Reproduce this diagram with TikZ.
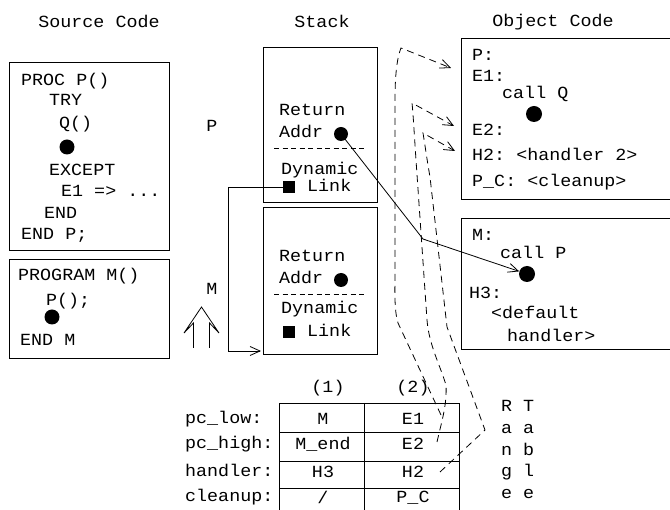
\documentclass[tikz,border=0pt]{standalone}
\usepackage{fontspec}
\setmonofont[FakeStretch=1.08]{Liberation Mono}
\usetikzlibrary{arrows.meta}
\begin{document}
\begin{tikzpicture}[x=1pt,y=-1pt,
  font=\ttfamily\fontsize{17}{21}\selectfont,
  txt/.style={inner sep=0pt, anchor=mid west},
  ctr/.style={inner sep=0pt, anchor=mid},
  boxnode/.style={draw, line width=0.9pt, anchor=north west, inner sep=0pt},
  ln/.style={line width=0.8pt},
  dsh/.style={ln, dash pattern=on 7pt off 5pt},
  sepline/.style={line width=0.8pt, dash pattern=on 5pt off 3.5pt},
  bdot/.style={circle, fill, inner sep=0pt, minimum size=15pt},
  bsq/.style={fill, inner sep=0pt, minimum size=12.5pt},
  tip/.style={-{Straight Barb[length=10pt,width=9pt]}},
  grid/.style={line width=0.9pt}]
\useasboundingbox (0,0) rectangle (670,510);
\clip (0,0) rectangle (670,510);

% titles
\node[ctr] (tsrc) at (99,25) {Source Code};
\node[ctr] (tstk) at (322,25) {Stack};
\node[ctr] (tobj) at (553,24) {Object Code};

% source code
\node[boxnode, minimum width=160pt, minimum height=188pt] (src1) at (9,62) {};
\node[txt] (s1) at (21,83) {PROC P()};
\node[txt] (s2) at (49,103) {TRY};
\node[txt] (s3) at (59,126) {Q()};
\node[bdot] (sdot1) at (67,147) {};
\node[txt] (s4) at (49,173) {EXCEPT};
\node[txt] (s5) at (61,194) {E1 => ...};
\node[txt] (s6) at (44,216) {END};
\node[txt] (s7) at (21,237) {END P;};

\node[boxnode, minimum width=160pt, minimum height=99pt] (src2) at (9,259) {};
\node[txt] (m1) at (18,278) {PROGRAM M()};
\node[txt] (m2) at (46,303) {P();};
\node[bdot] (sdot2) at (52,317) {};
\node[txt] (m3) at (20,343) {END M};

% frame labels
\node[ctr] (lp) at (212,129) {P};
\node[ctr] (lm) at (212,292) {M};
\draw[ln] (193.5,348) -- (193.5,323) -- (184,333) -- (201.5,307) -- (219,333) -- (209.5,323) -- (209.5,348);

% stack
\node[boxnode, minimum width=114pt, minimum height=155pt] (stackP) at (263,47) {};
\node[boxnode, minimum width=114pt, minimum height=147pt] (stackM) at (263,207) {};
\draw[sepline] (274,148) -- (367,148);
\draw[sepline] (274,294) -- (367,294);
\node[txt] (r1) at (279,113) {Return};
\node[txt] (a1) at (279,135) {Addr};
\node[bdot, minimum size=14pt] (dotP) at (341,134) {};
\node[txt] (d1) at (281,172.5) {Dynamic};
\node[bsq] (sqP) at (289,187) {};
\node[txt] (l1) at (307,189) {Link};
\node[txt] (r2) at (279,259) {Return};
\node[txt] (a2) at (279,281) {Addr};
\node[bdot, minimum size=14pt] (dotM) at (341,280) {};
\node[txt] (d2) at (281,311) {Dynamic};
\node[bsq] (sqM) at (289,332) {};
\node[txt] (l2) at (307,334) {Link};

% dynamic link
\coordinate (dlcorner) at (228,351);
\coordinate (dlend) at (261,351);
\draw[ln, tip] (sqP.west) -| (dlcorner) -- (dlend);

% object code
\node[boxnode, minimum width=215pt, minimum height=161pt] (obj1) at (461,38) {};
\node[txt] (o1) at (472,58) {P:};
\node[txt] (o2) at (472,79) {E1:};
\node[txt] (o3) at (502,96) {call Q};
\node[bdot, minimum size=16pt] (dotQ) at (534,114) {};
\node[txt] (o4) at (472,133) {E2:};
\node[txt] (o5) at (472,158) {H2: <handler 2>};
\node[txt] (o6) at (472,184) {P\_C: <cleanup>};

\node[boxnode, minimum width=215pt, minimum height=131pt] (obj2) at (461,218) {};
\node[txt] (p1) at (472,238) {M:};
\node[txt] (p2) at (500,256) {call P};
\node[bdot, minimum size=16pt] (dotCP) at (527,274) {};
\node[txt] (p3) at (469,296) {H3:};
\node[txt] (p4) at (491,316) {<default};
\node[txt] (p5) at (507,339) {handler>};

% return address link
\coordinate (bend) at (423,239);
\draw[ln, tip] (dotP.center) -- (bend) -- (dotCP);

% range table
\node[ctr] (h1) at (328,390) {(1)};
\node[ctr] (h2) at (413,390) {(2)};
\node[txt] (rl1) at (185,421) {pc\_low:};
\node[txt] (rl2) at (185,446) {pc\_high:};
\node[txt] (rl3) at (185,474) {handler:};
\node[txt] (rl4) at (185,499) {cleanup:};
\node[boxnode, minimum width=180pt, minimum height=120pt] (table) at (279,403) {};
\draw[grid] (279,432) -- (459,432) (279,461) -- (459,461) (279,488) -- (459,488)
  (364,403) -- (364,523);
\node[ctr] (c11) at (323,422) {M};
\node[ctr] (c12) at (413,422) {E1};
\node[ctr] (c21) at (323,447) {M\_end};
\node[ctr] (c22) at (413,447) {E2};
\node[ctr] (c31) at (323,475) {H3};
\node[ctr] (c32) at (413,475) {H2};
\node[ctr] (c41) at (323,501) {/};
\node[ctr] (c42) at (413,500) {P\_C};
\node[txt] (rt1) at (501,409) {R T};
\node[txt] (rt2) at (501,431) {a a};
\node[txt] (rt3) at (501,453) {n b};
\node[txt] (rt4) at (501,474) {g l};
\node[txt] (rt5) at (501,496) {e e};

% handler arrows
\coordinate (sa) at (441,415);
\coordinate (sb) at (437,442);
\coordinate (sc) at (440,472);
\coordinate (ta) at (451,68);
\coordinate (tb) at (454,126);
\coordinate (tc) at (455,151);
\draw[dsh, tip] (sa) -- (398,323) .. controls (394,310) and (395,290) .. (395,270)
  -- (395,100) .. controls (395,75) and (397,58) .. (401,48) -- (ta);
\draw[dsh, tip] (sb) .. controls (442,420) and (447,405) .. (446,385)
  .. controls (440,365) and (429,345) .. (427,320) -- (416,160)
  .. controls (414,130) and (413,112) .. (412,103) -- (tb);
\draw[dsh, tip] (sc) -- (485,430) -- (447,327) -- (430,177)
  .. controls (427,160) and (425,145) .. (423,133) -- (tc);
\end{tikzpicture}
\end{document}
